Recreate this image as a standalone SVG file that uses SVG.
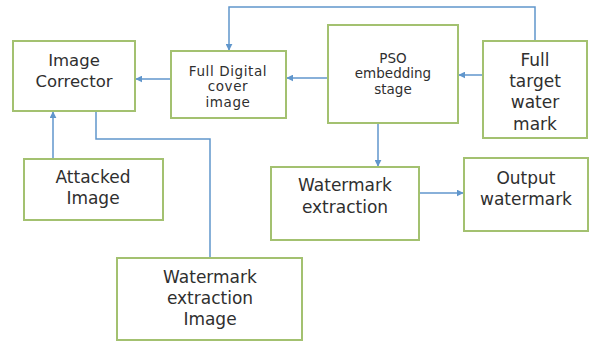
<svg xmlns="http://www.w3.org/2000/svg" width="589" height="344" viewBox="0 0 589 344">
  <style>
    .box { fill: #ffffff; stroke: #a3c170; stroke-width: 2; }
    .lbl { font-family: "DejaVu Sans", "Noto Sans", sans-serif; fill: #2f2f2f; text-anchor: middle; }
    .big { font-size: 17px; }
    .sm { font-size: 13.5px; }
    .wire { fill: none; stroke: #6096cc; stroke-width: 1.5; }
  </style>
  <defs>
    <marker id="arrow" viewBox="0 0 10 10" refX="9" refY="5" markerWidth="7" markerHeight="7" orient="auto" markerUnits="userSpaceOnUse">
      <path d="M0,0 L10,5 L0,10 z" fill="#6096cc"/>
    </marker>
  </defs>
  <rect width="589" height="344" fill="#ffffff"/>

  <g id="connectors">
    <path class="wire" d="M535,41 V7 H229 V50" marker-end="url(#arrow)"/>
    <path class="wire" d="M483,75 H459" marker-end="url(#arrow)"/>
    <path class="wire" d="M328,78 H287" marker-end="url(#arrow)"/>
    <path class="wire" d="M171,79 H136" marker-end="url(#arrow)"/>
    <path class="wire" d="M53,159 V112" marker-end="url(#arrow)"/>
    <path class="wire" d="M96,111 V139 H210 V258"/>
    <path class="wire" d="M378,123 V166" marker-end="url(#arrow)"/>
    <path class="wire" d="M419,193 H463" marker-end="url(#arrow)"/>
  </g>

  <g id="image-corrector">
    <rect class="box" x="13" y="41" width="122" height="70"/>
    <text class="lbl" style="font-size:16.5px" x="74" y="66">Image</text>
    <text class="lbl" style="font-size:16.5px" x="74" y="87">Corrector</text>
  </g>

  <g id="full-digital-cover">
    <rect class="box" x="171" y="51" width="115" height="67"/>
    <text class="lbl sm" style="letter-spacing:0.6px" x="228" y="76">Full Digital</text>
    <text class="lbl sm" style="letter-spacing:0.6px" x="228" y="91">cover</text>
    <text class="lbl sm" style="letter-spacing:0.6px" x="228" y="107">image</text>
  </g>

  <g id="pso-embedding">
    <rect class="box" x="328" y="25" width="130" height="98"/>
    <text class="lbl sm" x="393" y="63">PSO</text>
    <text class="lbl sm" x="393" y="78">embedding</text>
    <text class="lbl sm" x="393" y="94">stage</text>
  </g>

  <g id="full-target-watermark">
    <rect class="box" x="483" y="41" width="104" height="97"/>
    <text class="lbl big" x="535" y="66">Full</text>
    <text class="lbl big" x="535" y="87">target</text>
    <text class="lbl big" x="535" y="108">water</text>
    <text class="lbl big" x="535" y="130">mark</text>
  </g>

  <g id="attacked-image">
    <rect class="box" x="24" y="159" width="139" height="61"/>
    <text class="lbl big" x="93" y="183">Attacked</text>
    <text class="lbl big" x="93" y="204">Image</text>
  </g>

  <g id="watermark-extraction">
    <rect class="box" x="271" y="167" width="148" height="73"/>
    <text class="lbl big" x="345" y="191">Watermark</text>
    <text class="lbl big" x="345" y="213">extraction</text>
  </g>

  <g id="output-watermark">
    <rect class="box" x="464" y="158" width="124" height="73"/>
    <text class="lbl big" x="526" y="184">Output</text>
    <text class="lbl big" x="526" y="205">watermark</text>
  </g>

  <g id="watermark-extraction-image">
    <rect class="box" x="117" y="258" width="185" height="82"/>
    <text class="lbl big" x="210" y="283">Watermark</text>
    <text class="lbl big" x="210" y="304">extraction</text>
    <text class="lbl big" x="210" y="325">Image</text>
  </g>
</svg>
